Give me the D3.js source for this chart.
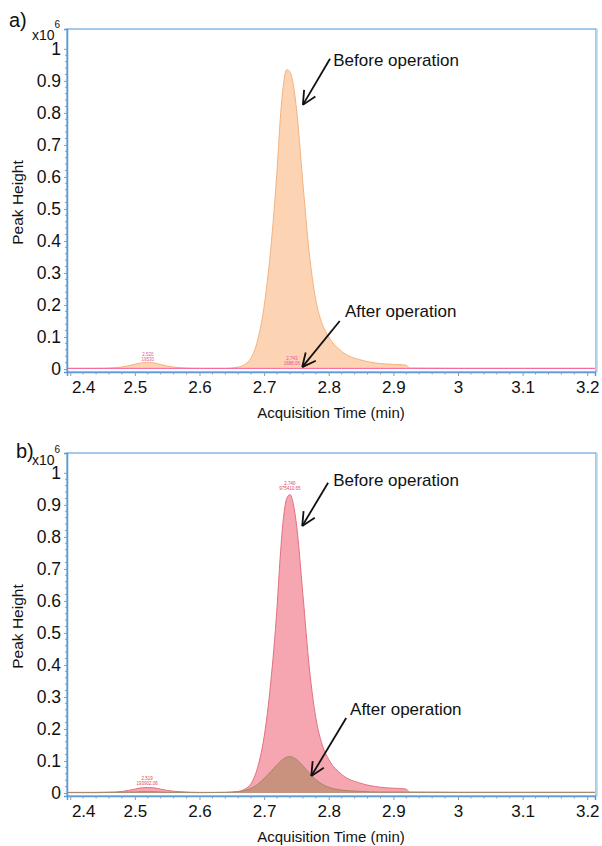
<!DOCTYPE html>
<html>
<head>
<meta charset="utf-8">
<script src="https://cdn.jsdelivr.net/npm/d3@7"></script>
<style>
  body { margin: 0; background: #fff; }
  svg { font-family: "Liberation Sans", Arial, sans-serif; }
</style>
</head>
<body>
<svg id="chart" width="602" height="846"></svg>
<script>
// time grid (min) shared by every trace
const times = [2.395, 2.44, 2.47, 2.49, 2.50, 2.51, 2.52, 2.53, 2.54, 2.55, 2.57, 2.60, 2.64,
  2.66, 2.67, 2.68, 2.69, 2.70, 2.71, 2.72, 2.725, 2.73, 2.735, 2.74, 2.745, 2.75, 2.76, 2.77, 2.78, 2.79,
  2.80, 2.82, 2.85, 2.88, 2.92, 2.925, 3.0, 3.1, 3.212];

// peak heights, x10^6
const beforeA = [0.002, 0.002, 0.004, 0.010, 0.015, 0.019, 0.021, 0.019, 0.014, 0.009, 0.004, 0.002, 0.002,
  0.006, 0.014, 0.035, 0.090, 0.195, 0.370, 0.620, 0.780, 0.890, 0.935, 0.928, 0.890, 0.815, 0.580, 0.360, 0.215, 0.140,
  0.100, 0.055, 0.028, 0.017, 0.012, 0.003, 0.002, 0.002, 0.002];
const afterA = [0.002, 0.002, 0.002, 0.002, 0.002, 0.002, 0.002, 0.002, 0.002, 0.002, 0.002, 0.002, 0.002,
  0.002, 0.002, 0.002, 0.002, 0.002, 0.002, 0.002, 0.002, 0.002, 0.002, 0.002, 0.002, 0.002, 0.002, 0.002, 0.002, 0.002,
  0.002, 0.002, 0.002, 0.002, 0.002, 0.002, 0.002, 0.002, 0.002];
const beforeB = [0.002, 0.002, 0.003, 0.008, 0.012, 0.016, 0.017, 0.016, 0.012, 0.008, 0.004, 0.002, 0.002,
  0.005, 0.012, 0.030, 0.080, 0.175, 0.340, 0.580, 0.740, 0.860, 0.920, 0.932, 0.905, 0.840, 0.620, 0.390, 0.235, 0.150,
  0.105, 0.058, 0.030, 0.018, 0.012, 0.003, 0.002, 0.002, 0.002];
const afterB = [0.001, 0.001, 0.002, 0.003, 0.003, 0.004, 0.004, 0.004, 0.003, 0.002, 0.002, 0.001, 0.002,
  0.004, 0.008, 0.015, 0.027, 0.045, 0.066, 0.088, 0.098, 0.107, 0.112, 0.114, 0.111, 0.105, 0.085, 0.062, 0.042, 0.027,
  0.018, 0.009, 0.005, 0.003, 0.003, 0.002, 0.002, 0.002, 0.002];

const xTicks = [2.4, 2.5, 2.6, 2.7, 2.8, 2.9, 3.0, 3.1, 3.2];
const xTickLabels = ["2.4", "2.5", "2.6", "2.7", "2.8", "2.9", "3", "3.1", "3.2"];
const yTicks = [0, 0.1, 0.2, 0.3, 0.4, 0.5, 0.6, 0.7, 0.8, 0.9, 1];
const yTickLabels = ["0", "0.1", "0.2", "0.3", "0.4", "0.5", "0.6", "0.7", "0.8", "0.9", "1"];

const panelNames = ["a)", "b)"];
const xTitle = "Acquisition Time (min)";
const yTitle = "Peak Height";

// annotations: [textTime, textValue, tailTime, tailValue, headTime, headValue, label]
const notesA = [
  [2.807, 0.947, 2.802, 0.969, 2.760, 0.825, "Before operation"],
  [2.825, 0.163, 2.817, 0.150, 2.759, 0.006, "After operation"]
];
const notesB = [
  [2.807, 0.959, 2.799, 0.969, 2.759, 0.834, "Before operation"],
  [2.833, 0.244, 2.827, 0.234, 2.773, 0.053, "After operation"]
];
// tiny peak labels: [time, value, line1, line2]
const peakLabelsA = [[2.520, 0.026, "2.520", "19530"], [2.743, 0.012, "2.743", "1688.06"]];
const peakLabelsB = [[2.519, 0.026, "2.519", "193902.06"], [2.740, 0.945, "2.740", "975410.65"]];

const LEFT = 67, RIGHT = 595, PH = 343;
const tops = [29, 453];

const svg = d3.select("#chart");
const x = d3.scaleLinear().domain([2.395, 3.212]).range([LEFT, RIGHT]);

const panels = [
  { name: panelNames[0], top: tops[0], nameX: 9, nameDy: -2, multDy: 11, series: [
      { vals: beforeA, fill: "#fcd4b4", stroke: "#f4b27e", area: true },
      { vals: afterA, fill: "none", stroke: "#f060a8", area: false }],
    notes: notesA, peaks: peakLabelsA, peakColor: "#e8509a" },
  { name: panelNames[1], top: tops[1], nameX: 16, nameDy: 5, multDy: 12, series: [
      { vals: beforeB, fill: "#f5a6b0", stroke: "#e3707f", area: true },
      { vals: afterB, fill: "#c9927f", stroke: "#a48a66", area: true }],
    notes: notesB, peaks: peakLabelsB, peakColor: "#e0445c" }
];

panels.forEach(p => drawPanel(p));

function drawPanel(p) {
  const g = svg.append("g");
  const bottom = p.top + PH;
  const y = d3.scaleLinear().domain([-0.0094, 1.062]).range([bottom, p.top]);

  // plot frame
  g.append("rect")
    .attr("x", LEFT).attr("y", p.top)
    .attr("width", RIGHT - LEFT + 1).attr("height", PH)
    .attr("fill", "none").attr("stroke", "#6aa6dc").attr("stroke-width", 1.2);
  g.append("line")
    .attr("x1", RIGHT + 2).attr("x2", RIGHT + 2)
    .attr("y1", p.top).attr("y2", bottom)
    .attr("stroke", "#b9d5ef").attr("stroke-width", 1.5);

  // traces
  p.series.forEach(s => {
    const pts = times.map((t, i) => [t, s.vals[i]]);
    if (s.area) {
      g.append("path").datum(pts)
        .attr("fill", s.fill)
        .attr("d", d3.area().curve(d3.curveMonotoneX)
          .x(d => x(d[0])).y0(y(0)).y1(d => y(d[1])));
    }
    g.append("path").datum(pts)
      .attr("fill", "none").attr("stroke", s.stroke).attr("stroke-width", 1)
      .attr("d", d3.line().curve(d3.curveMonotoneX).x(d => x(d[0])).y(d => y(d[1])));
  });

  // tiny peak labels
  p.peaks.forEach(k => {
    const t = g.append("text")
      .attr("x", x(k[0])).attr("y", y(k[1]) - 5)
      .attr("text-anchor", "middle").attr("font-size", "4.5px")
      .attr("fill", p.peakColor);
    t.append("tspan").attr("x", x(k[0])).text(k[2]);
    t.append("tspan").attr("x", x(k[0])).attr("dy", 5).text(k[3]);
  });

  // x axis
  const xa = g.append("g").attr("transform", `translate(0,${bottom})`)
    .call(d3.axisBottom(x).tickValues(xTicks).tickSize(4)
      .tickFormat((d, i) => xTickLabels[i]));
  xa.select(".domain").attr("stroke", "#5b9bd5").attr("stroke-width", 1.5);
  xa.selectAll(".tick line").attr("stroke", "#8a9bb0");
  xa.selectAll(".tick text").attr("font-size", "17px").attr("fill", "#111").attr("dy", "0.85em");
  xa.select(".tick text").attr("dx", 13);
  g.append("g").attr("transform", `translate(0,${bottom})`)
    .selectAll("line").data(d3.range(2.42, 3.2, 0.02).filter(v => Math.abs(v * 10 - Math.round(v * 10)) > 0.01))
    .join("line")
    .attr("x1", d => x(d)).attr("x2", d => x(d)).attr("y1", 0).attr("y2", 2.5)
    .attr("stroke", "#8a9bb0");

  // y axis
  const ya = g.append("g").attr("transform", `translate(${LEFT},0)`)
    .call(d3.axisLeft(y).tickValues(yTicks).tickSize(3)
      .tickFormat((d, i) => yTickLabels[i]));
  ya.select(".domain").attr("stroke", "#5b9bd5").attr("stroke-width", 1.5);
  ya.selectAll(".tick line").attr("stroke", "#8a9bb0");
  ya.selectAll(".tick text").attr("font-size", "17.5px").attr("fill", "#111").attr("x", -6);
  g.append("g").attr("transform", `translate(${LEFT},0)`)
    .selectAll("line").data(d3.range(0.02, 1.0, 0.02).filter(v => Math.abs(v * 10 - Math.round(v * 10)) > 0.01))
    .join("line")
    .attr("x1", -2).attr("x2", 0).attr("y1", d => y(d)).attr("y2", d => y(d))
    .attr("stroke", "#8a9bb0");

  // titles
  g.append("text")
    .attr("x", (LEFT + RIGHT) / 2).attr("y", bottom + 46)
    .attr("text-anchor", "middle").attr("font-size", "15px").attr("fill", "#111")
    .text(xTitle);
  g.append("text")
    .attr("transform", `translate(23,${y(0.52)}) rotate(-90)`)
    .attr("text-anchor", "middle").attr("font-size", "15.5px").attr("fill", "#111")
    .text(yTitle);

  // panel letter and multiplier
  g.append("text").attr("x", p.nameX).attr("y", p.top + p.nameDy)
    .attr("font-size", "20px").attr("fill", "#111").text(p.name);
  const mult = g.append("text").attr("x", 32).attr("y", p.top + p.multDy)
    .attr("font-size", "14px").attr("fill", "#111");
  mult.append("tspan").text("x10");
  mult.append("tspan").attr("dy", -12).attr("font-size", "10px").text("6");

  // annotations
  p.notes.forEach(n => {
    g.append("text").attr("x", x(n[0])).attr("y", y(n[1]))
      .attr("font-size", "17px").attr("fill", "#111").text(n[6]);
    const x1 = x(n[2]), y1 = y(n[3]), x2 = x(n[4]), y2 = y(n[5]);
    g.append("line").attr("x1", x1).attr("y1", y1).attr("x2", x2).attr("y2", y2)
      .attr("stroke", "#111").attr("stroke-width", 1.8);
    const ang = Math.atan2(y1 - y2, x1 - x2);
    [-0.45, 0.45].forEach(da => {
      g.append("line").attr("x1", x2).attr("y1", y2)
        .attr("x2", x2 + 15 * Math.cos(ang + da)).attr("y2", y2 + 15 * Math.sin(ang + da))
        .attr("stroke", "#111").attr("stroke-width", 1.8);
    });
  });
}
</script>
</body>
</html>
